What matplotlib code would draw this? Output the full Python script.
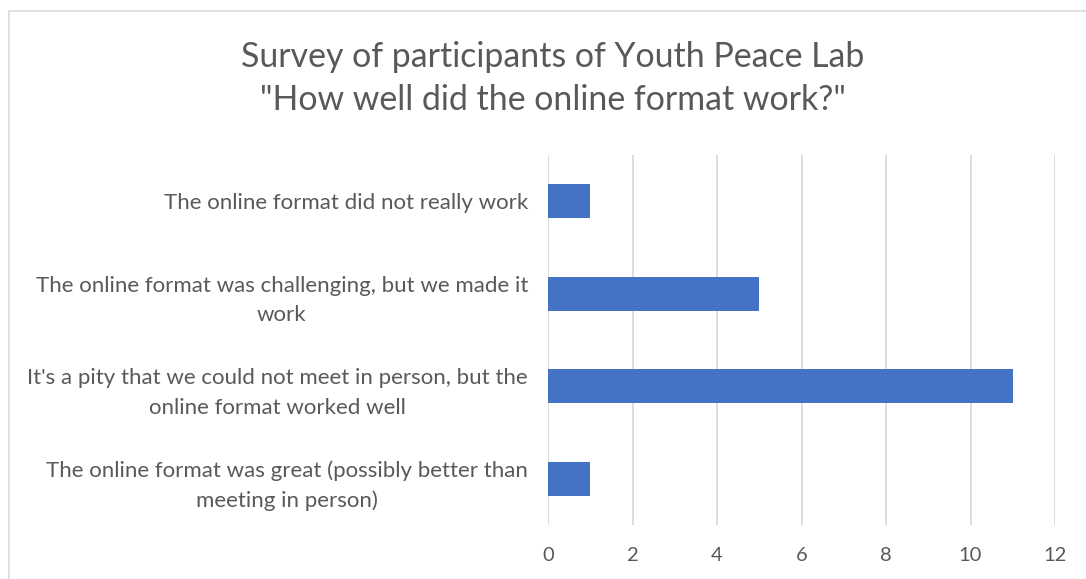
import matplotlib
matplotlib.use("Agg")
import matplotlib.pyplot as plt
from matplotlib.patches import Rectangle

categories = [
    "The online format did not really work",
    "The online format was challenging, but we made it\nwork",
    "It's a pity that we could not meet in person, but the\nonline format worked well",
    "The online format was great (possibly better than\nmeeting in person)",
]
counts = [1, 5, 11, 1]
xticks = [0, 2, 4, 6, 8, 10, 12]
title = 'Survey of participants of Youth Peace Lab\n"How well did the online format work?"'

plt.rcParams['font.family'] = ['Lato', 'DejaVu Sans']
text_color = "#595959"
bar_color = "#4472C4"
grid_color = "#D9D9D9"

W, H = 1086, 579
fig = plt.figure(figsize=(W / 100, H / 100), dpi=100)

# chart border
fig.patches.append(Rectangle((9 / W, -0.1), 1.2, 1 - 11 / H + 0.1, transform=fig.transFigure,
                             fill=False, edgecolor=grid_color, linewidth=1.2))

ax = fig.add_axes([548 / W, 1 - 525 / H, 507 / W, 370 / H])
y = list(range(len(categories)))
ax.barh(y, counts, height=0.37, color=bar_color, zorder=3)
ax.set_ylim(len(categories) - 0.5, -0.5)
ax.set_xlim(0, 12)
ax.set_xticks(xticks)
ax.set_xticklabels([str(t) for t in xticks], fontsize=14.5)
ax.set_yticks(y)
ax.set_yticklabels(categories, multialignment='center', fontsize=16, linespacing=1.6)
ax.grid(axis='x', color=grid_color, linewidth=1.3, zorder=0)
for s in ax.spines.values():
    s.set_visible(False)
ax.tick_params(axis='both', length=0, colors=text_color)
ax.tick_params(axis='y', pad=14.4)
ax.tick_params(axis='x', pad=16)

fig.text(553 / W, 1 - 78.5 / H, title, ha='center', va='center', fontsize=24.4,
         color=text_color, linespacing=1.42)

fig.savefig("out.png", dpi=100)
